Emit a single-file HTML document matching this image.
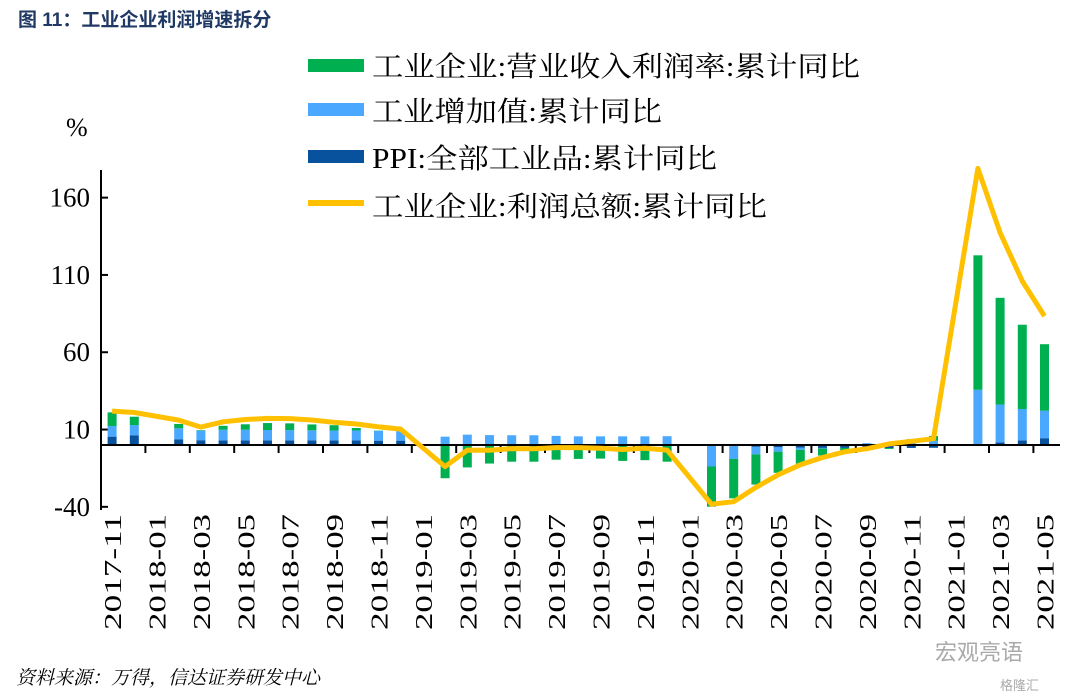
<!DOCTYPE html>
<html><head><meta charset="utf-8">
<style>
body{margin:0;background:#fff;width:1080px;height:697px;overflow:hidden;}
svg{display:block;}
text{font-family:"Liberation Serif","Noto Serif CJK SC",serif;}
</style></head>
<body>
<svg id="chart" width="1080" height="697" viewBox="0 0 1080 697" xmlns="http://www.w3.org/2000/svg">
<text x="18" y="26" font-size="19" font-weight="bold" fill="#1f3864" style='font-family:"Liberation Sans","Noto Sans CJK SC",sans-serif'>图 11：工业企业利润增速拆分</text>
<text x="66" y="136" font-size="26">%</text>
<g id="legend">
<g><rect x="308" y="59" width="56" height="13" fill="#00b050"/><text x="372" y="76" font-size="28" textLength="488" lengthAdjust="spacingAndGlyphs">工业企业:营业收入利润率:累计同比</text></g>
<g><rect x="308" y="103" width="56" height="13" fill="#4aa8ff"/><text x="372" y="121" font-size="28" textLength="290" lengthAdjust="spacingAndGlyphs">工业增加值:累计同比</text></g>
<g><rect x="308" y="150" width="56" height="13" fill="#08519c"/><text x="372" y="168" font-size="28" textLength="345" lengthAdjust="spacingAndGlyphs">PPI:全部工业品:累计同比</text></g>
<g><rect x="308" y="200" width="56" height="6" fill="#ffc000"/><text x="372" y="216" font-size="28" textLength="395" lengthAdjust="spacingAndGlyphs">工业企业:利润总额:累计同比</text></g>
</g>
<g id="plot"></g>
<text x="16" y="684" font-size="19" font-style="italic" style='font-family:"Liberation Serif","Noto Serif CJK SC",serif'>资料来源：万得，信达证券研发中心</text>
<text x="935" y="660" font-size="22" fill="#aaa" style='font-family:"Liberation Sans","Noto Sans CJK SC",sans-serif'>宏观亮语</text>
<text x="1000" y="690" font-size="13" fill="#aaa" style='font-family:"Liberation Sans","Noto Sans CJK SC",sans-serif'>格隆汇</text>
</svg>
<script>
const categories=["2017-11","2017-12","2018-01","2018-02","2018-03","2018-04","2018-05","2018-06","2018-07","2018-08","2018-09","2018-10","2018-11","2018-12","2019-01","2019-02","2019-03","2019-04","2019-05","2019-06","2019-07","2019-08","2019-09","2019-10","2019-11","2019-12","2020-01","2020-02","2020-03","2020-04","2020-05","2020-06","2020-07","2020-08","2020-09","2020-10","2020-11","2020-12","2021-01","2021-02","2021-03","2021-04","2021-05"];
const ppi=[5.4,6.3,null,3.7,3.1,3.0,3.0,3.0,3.0,3.0,3.0,3.0,2.8,2.8,null,0.1,0.2,0.2,0.3,0.3,0.1,0,-0.1,-0.3,-0.3,-0.3,null,-0.4,-0.6,-1.2,-1.5,-1.8,-1.9,-1.9,-2.0,-2.0,-1.9,-1.8,null,0.6,1.7,3.0,4.4];
const iva=[6.9,6.6,null,7.1,6.2,6.9,6.9,6.7,6.6,6.5,6.4,6.4,6.3,6.2,null,5.3,6.5,6.2,6.0,6.0,5.8,5.6,5.6,5.6,5.6,5.7,null,-13.5,-8.4,-4.9,-2.8,-1.3,-0.4,0.4,1.2,1.8,2.3,2.8,null,35.1,24.5,20.3,17.8];
const margin=[8.8,5.4,null,2.8,0.3,2.5,3.5,4.5,4.4,3.8,3.4,1.6,0.2,0,null,-21.5,-14.5,-12,-10.8,-10.8,-9.5,-9,-8.7,-10,-9.5,-10.5,null,-26,-25.5,-19.5,-13.7,-9,-4.5,-2,-0.5,-0.6,1.5,3.1,null,87,69,54.5,43];
const profit=[21.9,21.0,null,16.1,11.6,15.0,16.5,17.2,17.1,16.2,14.7,13.6,11.8,10.3,null,-14.0,-3.3,-3.4,-2.3,-2.4,-1.7,-1.7,-2.1,-2.9,-2.1,-3.3,null,-38.3,-36.7,-27.4,-19.3,-12.8,-8.1,-4.4,-2.4,0.7,2.4,4.1,null,178.9,137.3,106.0,83.4];
const yTicks=[-40,10,60,110,160];

const NS="http://www.w3.org/2000/svg";
const plot=document.getElementById('plot');
const X0=101,BAND=22.2,Y0=445,PPU=1.546;
function xc(i){return X0+(i+0.5)*BAND;}
function y(v){return Y0-v*PPU;}
function mk(tag,attrs,parent){const e=document.createElementNS(NS,tag);for(const k in attrs)e.setAttribute(k,attrs[k]);(parent||plot).appendChild(e);return e;}

const ya=mk('line',{x1:X0,x2:X0,y1:170,y2:510,stroke:'#000','stroke-width':2});


yTicks.forEach(t=>{
  const tk=mk('line',{x1:X0,x2:X0+7,y1:y(t),y2:y(t),stroke:'#000','stroke-width':2});
  
  
  const tl=mk('text',{x:90,y:y(t)+9,'text-anchor':'end','font-size':27});
  tl.textContent=t;
  
  
});

const colors={ppi:'#08519c',iva:'#4aa8ff',margin:'#00b050'};
categories.forEach((c,i)=>{
  if(ppi[i]===null)return;
  let pos=0,neg=0;
  [['ppi',ppi[i]],['iva',iva[i]],['margin',margin[i]]].forEach(([k,v])=>{
    let a,b;
    if(v>=0){a=pos;b=pos+v;pos=b;}else{a=neg;b=neg+v;neg=b;}
    const r=mk('rect',{x:xc(i)-4.5,width:9,y:Math.min(y(a),y(b)),height:Math.abs(y(a)-y(b)),fill:colors[k]});
    
    
  });
});

const xa=mk('line',{x1:X0,x2:1060,y1:Y0,y2:Y0,stroke:'#000','stroke-width':2});


categories.forEach((c,i)=>{
  if(i%2===0&&i>0){
    const tk=mk('line',{x1:X0+i*BAND,x2:X0+i*BAND,y1:Y0,y2:Y0+8,stroke:'#000','stroke-width':2});
    
    
  }
  if(i%2===0){
    const t=mk('text',{x:0,y:0,'font-size':24,'text-anchor':'end',textLength:116,lengthAdjust:'spacingAndGlyphs',transform:`translate(${xc(i)+9},514) rotate(-90)`});
    t.textContent=c;
    
    
  }
});

let d='';
profit.forEach((v,i)=>{if(v===null)return;d+=(d?'L':'M')+xc(i).toFixed(1)+','+y(v).toFixed(1);});
const ln=mk('path',{d:d,fill:'none',stroke:'#ffc000','stroke-width':5,'stroke-linejoin':'round'});


</script>
</body></html>
